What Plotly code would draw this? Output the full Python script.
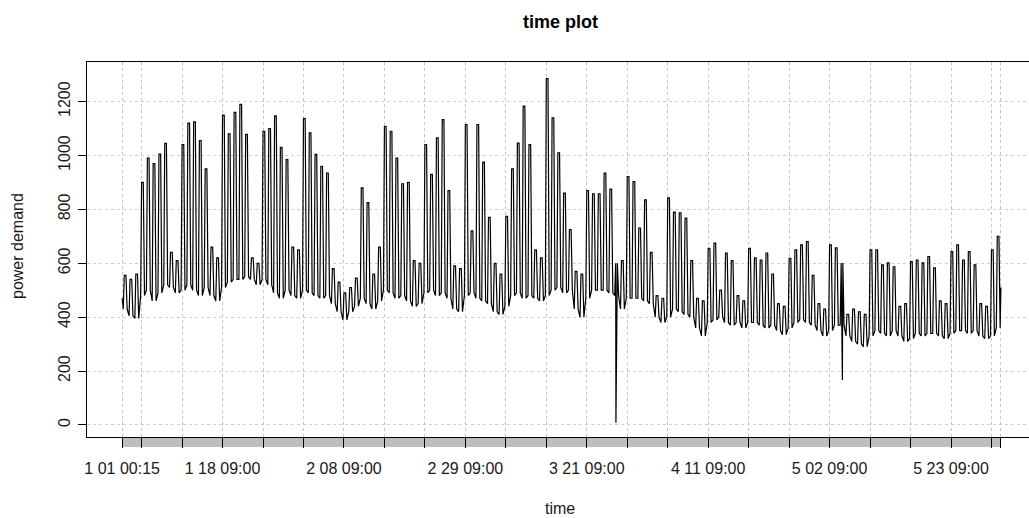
import pandas as pd
import plotly.graph_objects as go

# Series covers 15-minute readings from New Year to the end of May
SERIES_START = "2016-01-01 00:15"
SERIES_END = "2016-06-01 00:00"

# Daily night-time minimum of power demand, Jan 1 .. May 31
day_low = [
    430, 405, 395,                          # Jan 1-3
    480, 500, 460, 490, 520, 510, 490,      # week of Jan 4
    500, 520, 500, 480, 510, 480, 460,      # Jan 11
    510, 530, 540, 540, 550, 540, 520,      # Jan 18
    540, 520, 490, 470, 500, 480, 470,      # Jan 25
    500, 490, 480, 470, 480, 450, 420,      # Feb 1
    390, 420, 440, 470, 450, 430, 460,      # Feb 8
    500, 490, 470, 480, 460, 440, 450,      # Feb 15
    490, 500, 480, 490, 470, 430, 420,      # Feb 22
    480, 490, 470, 460, 450, 420, 410,      # Feb 29
    440, 480, 490, 470, 480, 470, 460,      # Mar 7
    480, 500, 510, 490, 500, 430, 400,      # Mar 14
    470, 500, 500, 500, 490, 480, 430,      # Mar 21
    470, 470, 470, 460, 450, 400, 380,      # Mar 28
    400, 430, 420, 410, 400, 360, 330,      # Apr 4
    380, 390, 400, 380, 370, 380, 360,      # Apr 11
    380, 380, 370, 360, 370, 350, 335,      # Apr 18
    360, 380, 390, 380, 370, 350, 330,      # Apr 25
    350, 370, 370, 330, 310, 300, 290,      # May 2
    330, 350, 340, 330, 350, 330, 310,      # May 9
    320, 340, 330, 340, 340, 330, 320,      # May 16
    340, 350, 350, 340, 350, 330, 320,      # May 23
    330, 360,                               # May 30-31
]

# Daily daytime peak of power demand, Jan 1 .. May 31
day_peak = [
    555, 540, 560,
    900, 990, 970, 1005, 1045, 640, 610,
    1040, 1120, 1125, 1055, 950, 660, 620,
    1150, 1080, 1160, 1190, 1078, 620, 600,
    1090, 1100, 1147, 1030, 985, 660, 650,
    1137, 1084, 1004, 960, 935, 580, 530,
    490, 510, 545, 880, 825, 560, 660,
    1108, 1090, 990, 895, 900, 610, 600,
    1040, 930, 1065, 1133, 870, 590, 580,
    1115, 720, 1115, 975, 770, 600, 560,
    774, 950, 1046, 1183, 1040, 650, 620,
    1285, 1140, 1010, 860, 725, 570, 560,
    870, 858, 858, 935, 875, 600, 610,
    922, 903, 730, 835, 640, 480, 470,
    843, 790, 787, 768, 610, 470, 460,
    655, 675, 500, 638, 610, 480, 460,
    655, 620, 612, 638, 560, 450, 440,
    618, 650, 668, 680, 555, 450, 430,
    668, 657, 601, 410, 430, 420, 410,
    650, 650, 594, 601, 587, 440, 450,
    606, 612, 601, 625, 583, 460, 450,
    643, 668, 612, 643, 594, 450, 440,
    650, 700,
]

# First and last readings of the series
edge_values = [470, 510]

# Isolated meter dropouts
dropout_times = ["2016-03-26 10:00", "2016-05-04 14:00"]
dropout_values = [8, 167]

# Labelled x ticks
label_times = ["2016-01-01 00:15", "2016-01-18 09:00", "2016-02-08 09:00",
               "2016-02-29 09:00", "2016-03-21 09:00", "2016-04-11 09:00",
               "2016-05-02 09:00", "2016-05-23 09:00"]
label_texts = ["1 01 00:15", "1 18 09:00", "2 08 09:00", "2 29 09:00",
               "3 21 09:00", "4 11 09:00", "5 02 09:00", "5 23 09:00"]

y_ticks = [0, 200, 400, 600, 800, 1000, 1200]

# ---- assemble the series --------------------------------------------------
t_start = pd.Timestamp(SERIES_START)
t_end = pd.Timestamp(SERIES_END)
days = pd.date_range("2016-01-01", periods=len(day_low), freq="D")

times, values = [t_start], [edge_values[0]]
for day, lo, hi in zip(days, day_low, day_peak):
    times += [day + pd.Timedelta(hours=5), day + pd.Timedelta(hours=9),
              day + pd.Timedelta(hours=16), day + pd.Timedelta(hours=21)]
    values += [lo, hi, hi, lo]
times += [pd.Timestamp(t) for t in dropout_times]
values += dropout_values
times.append(t_end)
values.append(edge_values[1])

df = pd.DataFrame({"time": times, "demand": values}).sort_values("time")

# weekly ticks: series start, every Monday 09:00, series end
tick_times = ([t_start] + list(pd.date_range("2016-01-04 09:00", "2016-05-30 09:00", freq="7D"))
              + [t_end])
label_map = {pd.Timestamp(t): s for t, s in zip(label_times, label_texts)}
tick_text = [label_map.get(t, "") for t in tick_times]

span = t_end - t_start
x_range = [t_start - 0.04 * span, t_end + 0.032 * span]

FONT = "Liberation Sans, Arial, sans-serif"
TXT = "#1a1a1a"

fig = go.Figure()
fig.add_trace(go.Scatter(
    x=df["time"], y=df["demand"], mode="lines",
    line=dict(color="black", width=1.2),
    hoverinfo="skip", showlegend=False,
))

# the dense tick strip under the time axis
fig.add_shape(type="rect", xref="x", yref="paper",
              x0=t_start, x1=t_end, y0=-10 / 375, y1=0,
              fillcolor="#bebebe", line=dict(width=0), layer="below")

fig.update_layout(
    width=1029, height=518,
    margin=dict(l=87, r=0, t=62, b=81),
    paper_bgcolor="white", plot_bgcolor="white",
    font=dict(family=FONT, size=16, color=TXT),
    showlegend=False,
    xaxis=dict(
        range=x_range, tickmode="array", tickvals=tick_times, ticktext=tick_text,
        ticks="outside", ticklen=10, tickcolor="black", tickwidth=1,
        ticklabelstandoff=7, tickangle=0,
        showline=True, linecolor="black", linewidth=1, mirror=True,
        showgrid=True, gridcolor="#c4c4c4", griddash="dot", gridwidth=1,
        zeroline=False, tickfont=dict(size=16, color=TXT),
    ),
    yaxis=dict(
        range=[-45, 1347], tickmode="array", tickvals=y_ticks,
        ticks="outside", ticklen=8, tickcolor="black", tickwidth=1,
        tickangle=-90, ticklabelstandoff=2,
        showline=True, linecolor="black", linewidth=1, mirror=False,
        showgrid=True, gridcolor="#d0d0d0", griddash="dot", gridwidth=1,
        zeroline=False, tickfont=dict(size=16, color=TXT),
    ),
    annotations=[
        dict(text="<b>time plot</b>", xref="paper", yref="paper",
             x=(560 - 87) / 942, y=1 + (62 - 22) / 375, showarrow=False,
             xanchor="center", yanchor="middle", font=dict(size=18, color="black")),
        dict(text="time", xref="paper", yref="paper",
             x=(560 - 87) / 942, y=-(508 - 437) / 375, showarrow=False,
             xanchor="center", yanchor="middle", font=dict(size=16, color=TXT)),
        dict(text="power demand", xref="paper", yref="paper",
             x=-(87 - 17) / 942, y=(437 - 246) / 375, showarrow=False, textangle=-90,
             xanchor="center", yanchor="middle", font=dict(size=16, color=TXT)),
    ],
)

fig.write_html("out.html")
